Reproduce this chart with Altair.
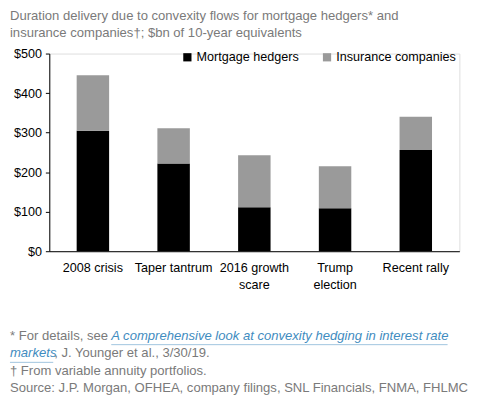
import altair as alt
import pandas as pd

categories = ["2008 crisis", "Taper tantrum", "2016 growth|scare", "Trump|election", "Recent rally"]
mortgage = [305, 222, 111, 109, 256]
insurance = [140, 89, 132, 106, 84]
series = ["Mortgage hedgers", "Insurance companies"]
colors = ["#000000", "#9a9a9a"]

title_lines = [
    "Duration delivery due to convexity flows for mortgage hedgers* and",
    "insurance companies\u2020; $bn of 10-year equivalents",
]
foot1a = "* For details, see "
foot1b = "A comprehensive look at convexity hedging in interest rate"
foot2a = "markets"
foot2b = ", J. Younger et al., 3/30/19."
foot3 = "\u2020 From variable annuity portfolios."
foot4 = "Source: J.P. Morgan, OFHEA, company filings, SNL Financials, FNMA, FHLMC"

rows = []
for c, m, i in zip(categories, mortgage, insurance):
    rows.append({"cat": c, "series": series[0], "value": m, "ord": 0})
    rows.append({"cat": c, "series": series[1], "value": i, "ord": 1})
df = pd.DataFrame(rows)

FONT = "Liberation Sans, Arial"
LFS = 12.8
FOOTFONT = "Liberation Sans, Arial"
FFS = 13.3
GRAY = "#7a7a7a"
LINK = "#3f8cc0"

bars = alt.Chart(df).mark_bar(size=33).encode(
    x=alt.X("cat:N", sort=categories, title=None,
            scale=alt.Scale(paddingInner=0, paddingOuter=0.04),
            axis=alt.Axis(labelAngle=0, labelExpr="split(datum.label, '|')",
                          labelFont=FONT, labelFontSize=LFS, labelColor="#000",
                          labelPadding=11, ticks=False, domainColor="#000",
                          labelLineHeight=17)),
    y=alt.Y("value:Q", stack="zero", title=None,
            scale=alt.Scale(domain=[0, 500], nice=False),
            axis=alt.Axis(values=[0, 100, 200, 300, 400, 500], labelExpr="'$' + datum.value",
                          grid=False, labelFont=FONT, labelFontSize=LFS, labelColor="#000",
                          tickSize=4, tickColor="#000", domainColor="#000", labelPadding=4)),
    color=alt.Color("series:N", scale=alt.Scale(domain=series, range=colors),
                    legend=alt.Legend(title=None, orient="none", direction="horizontal",
                                      legendX=134, legendY=-3, symbolType="square",
                                      symbolSize=70, symbolStrokeWidth=0,
                                      labelFont=FONT, labelFontSize=LFS, labelColor="#000",
                                      labelOffset=3, columnPadding=22)),
    order=alt.Order("ord:Q"),
)

def txt(s, x, y, color=GRAY, style="normal"):
    return alt.Chart(pd.DataFrame({"t": [s]})).mark_text(
        align="left", baseline="middle", font=FOOTFONT, fontSize=FFS,
        color=color, fontStyle=style,
    ).encode(text="t:N", x=alt.value(x), y=alt.value(y))

def uline(x1, x2, y):
    return alt.Chart(pd.DataFrame({"a": [0]})).mark_rule(color="#9fc4de", strokeWidth=1).encode(
        x=alt.value(x1), x2=alt.value(x2), y=alt.value(y))

layers = [
    bars,
    txt(title_lines[0], -40, -38),
    txt(title_lines[1], -40, -21),
    txt(foot1a, -40, 287),
    txt(foot1b, 63, 287, LINK, "italic"),
    uline(63, 405, 296),
    txt(foot2a, -40, 305, LINK, "italic"),
    uline(-40, 4, 314),
    txt(foot2b, 5, 305),
    txt(foot3, -40, 323),
    txt(foot4, -40, 340),
]

chart = alt.layer(*layers).properties(
    width=417, height=201,
    autosize=alt.AutoSizeParams(type="none"),
    padding={"left": 42, "top": 43, "right": 23, "bottom": 150},
).configure_view(stroke=None).configure(background="white")

chart.save("out.html", embed_options={"renderer": "svg", "actions": False})
